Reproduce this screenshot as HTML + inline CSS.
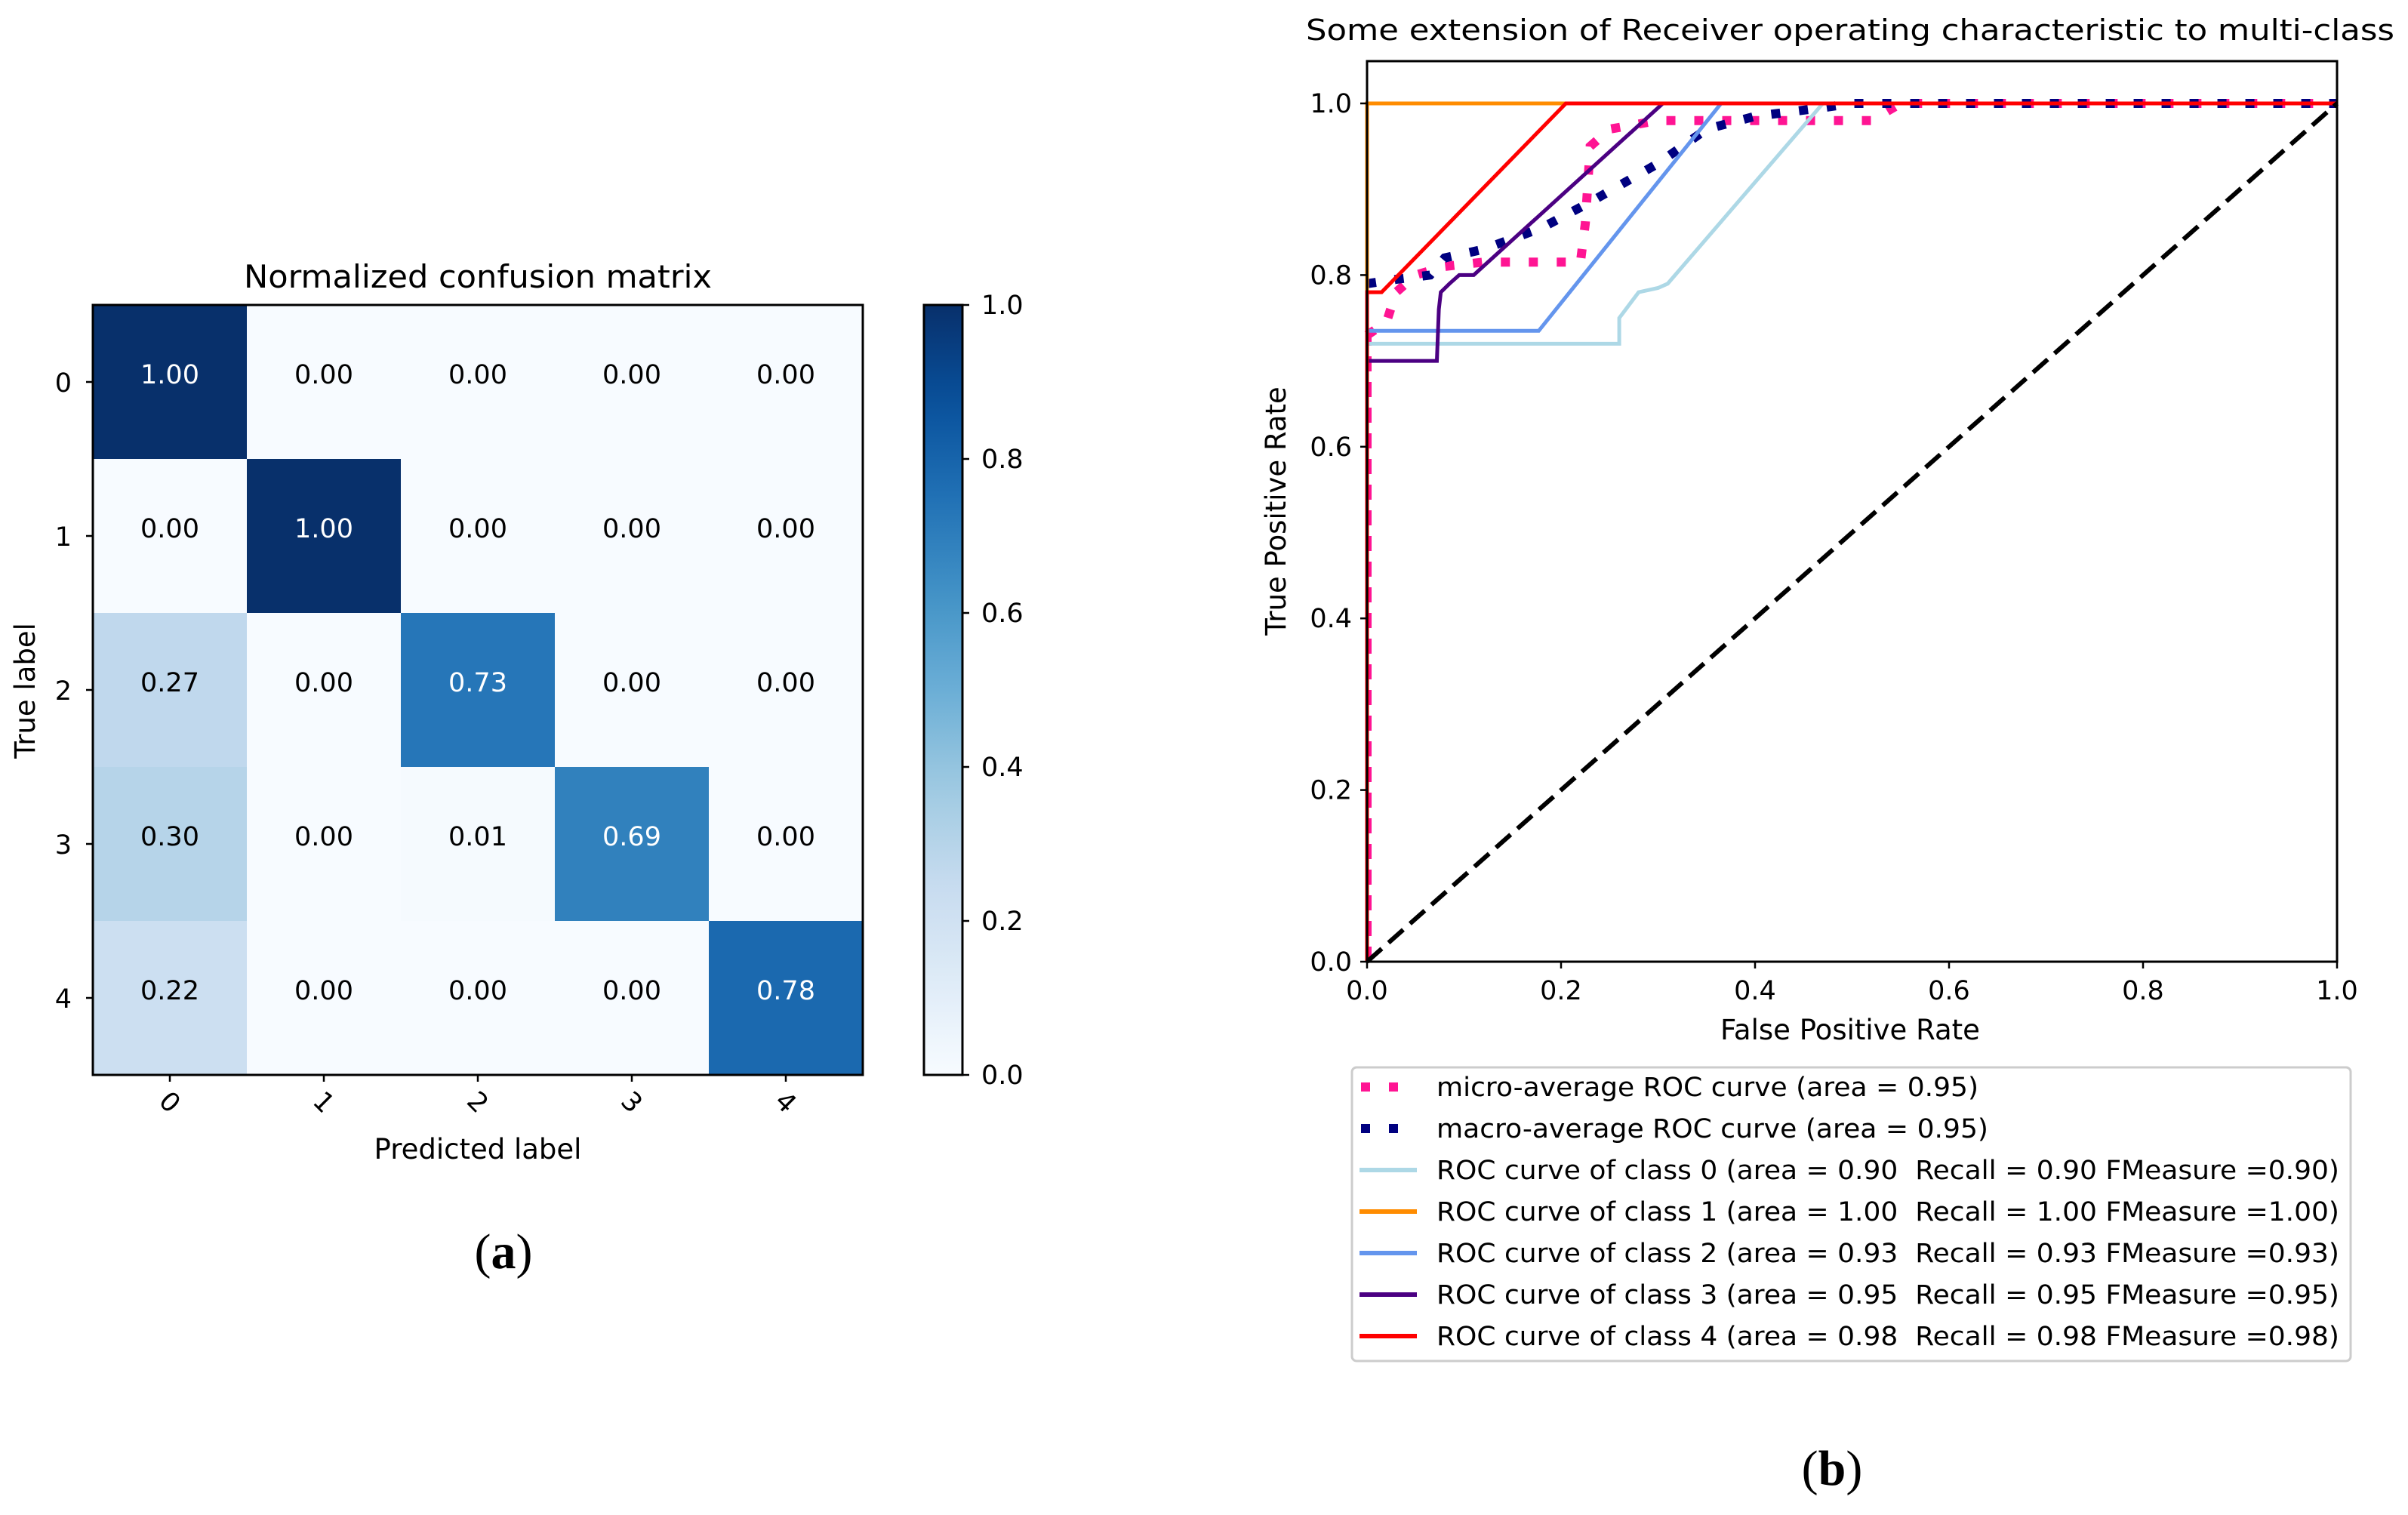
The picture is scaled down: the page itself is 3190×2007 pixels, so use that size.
<!DOCTYPE html>
<html><head><meta charset="utf-8"><style>
html,body{margin:0;padding:0;background:#fff}
svg{display:block}
text{font-family:"DejaVu Sans","Liberation Sans",sans-serif;fill:#000;white-space:pre}
</style></head><body>
<svg id="fig" width="3190" height="2007" viewBox="0 0 3190 2007" xmlns="http://www.w3.org/2000/svg" xml:space="preserve">
<rect width="3190" height="2007" fill="#fff"/>
<g id="cm"></g>
<g id="roc"></g>
<text x="667" y="1680" font-size="66" text-anchor="middle" style="font-family:'Liberation Serif',serif">(<tspan font-weight="bold">a</tspan>)</text>
<text x="2427" y="1967" font-size="66" text-anchor="middle" style="font-family:'Liberation Serif',serif">(<tspan font-weight="bold">b</tspan>)</text>
</svg>
<script>
// ---- confusion matrix data ----
const cmLabels = ['0','1','2','3','4'];
const cmRow0 = [1.00,0.00,0.00,0.00,0.00];
const cmRow1 = [0.00,1.00,0.00,0.00,0.00];
const cmRow2 = [0.27,0.00,0.73,0.00,0.00];
const cmRow3 = [0.30,0.00,0.01,0.69,0.00];
const cmRow4 = [0.22,0.00,0.00,0.00,0.78];
const cbTicks = ['0.0','0.2','0.4','0.6','0.8','1.0'];
// ---- ROC data ----
const rocTicks = ['0.0','0.2','0.4','0.6','0.8','1.0'];
const microX = [0,0,0.02,0.03,0.05,0.08,0.12,0.22,0.225,0.23,0.25,0.30,0.52,0.55,1];
const microY = [0,0.73,0.745,0.78,0.80,0.81,0.815,0.815,0.86,0.95,0.97,0.98,0.98,1,1];
const macroX = [0,0.03,0.065,0.08,0.12,0.18,0.23,0.30,0.35,0.40,0.47,0.50,1];
const macroY = [0.79,0.795,0.80,0.82,0.83,0.855,0.885,0.93,0.97,0.985,0.995,1,1];
const c0X = [0,0,0.26,0.26,0.27,0.28,0.30,0.31,0.47,1];
const c0Y = [0,0.72,0.72,0.75,0.765,0.78,0.785,0.79,1,1];
const c1X = [0,0,1];
const c1Y = [0,1,1];
const c2X = [0,0,0.177,0.365,1];
const c2Y = [0,0.735,0.735,1,1];
const c3X = [0,0,0.072,0.074,0.076,0.085,0.095,0.11,0.305,1];
const c3Y = [0,0.70,0.70,0.76,0.78,0.79,0.80,0.80,1,1];
const c4X = [0,0,0.015,0.205,1];
const c4Y = [0,0.78,0.78,1,1];
const legendLabels = ['micro-average ROC curve (area = 0.95)','macro-average ROC curve (area = 0.95)',
 'ROC curve of class 0 (area = 0.90  Recall = 0.90 FMeasure =0.90)',
 'ROC curve of class 1 (area = 1.00  Recall = 1.00 FMeasure =1.00)',
 'ROC curve of class 2 (area = 0.93  Recall = 0.93 FMeasure =0.93)',
 'ROC curve of class 3 (area = 0.95  Recall = 0.95 FMeasure =0.95)',
 'ROC curve of class 4 (area = 0.98  Recall = 0.98 FMeasure =0.98)'];

const NS='http://www.w3.org/2000/svg';
function mk(parent,tag,attrs,txt){const e=document.createElementNS(NS,tag);for(const k in attrs)e.setAttribute(k,attrs[k]);if(txt!==undefined)e.textContent=txt;parent.appendChild(e);return e;}
const blues=[[247,251,255],[222,235,247],[198,219,239],[158,202,225],[107,174,214],[66,146,198],[33,113,181],[8,81,156],[8,48,107]];
function blue(v){v=Math.max(0,Math.min(1,v));const p=v*8,i=Math.min(7,Math.floor(p)),f=p-i;const a=blues[i],b=blues[i+1];return 'rgb('+a.map((c,k)=>Math.round(c+(b[k]-c)*f)).join(',')+')';}

// ---- confusion matrix ----
const cm=document.getElementById('cm');
const cmRows=[cmRow0,cmRow1,cmRow2,cmRow3,cmRow4];
const L=123,T=404,W=1020,H=1020,n=cmLabels.length,cw=W/n,ch=H/n;
const cmx=j=>L+j*cw, cmy=i=>T+i*ch;
let t=mk(cm,'text',{x:633,y:381,'font-size':42,'text-anchor':'middle',textLength:620,lengthAdjust:'spacingAndGlyphs'},'Normalized confusion matrix');


cmRows.forEach((row,i)=>row.forEach((v,j)=>{
 const r=mk(cm,'rect',{x:cmx(j),y:cmy(i),width:cw+0.5,height:ch+0.5,fill:blue(v)});
 
 
 const tx=mk(cm,'text',{x:cmx(j)+cw/2,y:cmy(i)+ch/2+2,'font-size':35,'text-anchor':'middle',style:'fill:'+(v>0.5?'#fff':'#000')},v.toFixed(2));
 
 
}));
mk(cm,'rect',{x:L,y:T,width:W,height:H,fill:'none',stroke:'#000','stroke-width':3});
cmLabels.forEach((lab,k)=>{
 const yc=cmy(k)+ch/2, xc=cmx(k)+cw/2;
 mk(cm,'line',{x1:L-9,x2:L,y1:yc,y2:yc,stroke:'#000','stroke-width':2.5});
 let a=mk(cm,'text',{x:L-28,y:yc+13,'font-size':35,'text-anchor':'end'},lab);
 
 
 mk(cm,'line',{x1:xc,x2:xc,y1:T+H,y2:T+H+9,stroke:'#000','stroke-width':2.5});
 let b=mk(cm,'text',{x:xc,y:T+H+48,'font-size':35,'text-anchor':'middle',transform:'rotate(45 '+xc+' '+(T+H+36)+')'},lab);
 
 
});
t=mk(cm,'text',{x:633,y:1535,'font-size':37,'text-anchor':'middle'},'Predicted label');


t=mk(cm,'text',{x:46,y:915,'font-size':37,'text-anchor':'middle',transform:'rotate(-90 46 915)'},'True label');


// colorbar
const cbx=1224,cbw=51;
const defs=mk(cm,'defs',{});
const g=mk(defs,'linearGradient',{id:'cbg',x1:0,y1:1,x2:0,y2:0});
for(let s=0;s<=20;s++)mk(g,'stop',{offset:s/20,'stop-color':blue(s/20)});
let cb=mk(cm,'rect',{x:cbx,y:T,width:cbw,height:H,fill:'url(#cbg)',stroke:'#000','stroke-width':3});


cbTicks.forEach(lab=>{
 const y=T+H-parseFloat(lab)*H;
 mk(cm,'line',{x1:cbx+cbw,x2:cbx+cbw+9,y1:y,y2:y,stroke:'#000','stroke-width':2.5});
 const tt=mk(cm,'text',{x:cbx+cbw+25,y:y+12,'font-size':35},lab);
 
 
});

// ---- ROC ----
const roc=document.getElementById('roc');
const X0=1811,X1=3096,Y0=1274,Y1=137,PT=81;
const sx=v=>X0+v*(X1-X0), sy=v=>Y0-v*(Y0-Y1);
t=mk(roc,'text',{x:2451,y:53,'font-size':38,'text-anchor':'middle',textLength:1442,lengthAdjust:'spacingAndGlyphs'},'Some extension of Receiver operating characteristic to multi-class');


const clip=mk(mk(roc,'defs',{}),'clipPath',{id:'rc'});
mk(clip,'rect',{x:X0-8,y:PT,width:X1-X0+16,height:Y0-PT+8});
const plot=mk(roc,'g',{'clip-path':'url(#rc)'});
function series(xs,ys,color,w,dash,name){
 const d=xs.map((x,i)=>(i?'L':'M')+sx(x).toFixed(1)+' '+sy(ys[i]).toFixed(1)).join(' ');
 const p=mk(plot,'path',{d:d,fill:'none',stroke:color,'stroke-width':w,'stroke-linejoin':'miter'});
 if(dash)p.setAttribute('stroke-dasharray',dash);
 
 
}
// thin vertical segment of micro-average along the y-axis
const vx=sx(microX[0])+4;
let vl=mk(plot,'line',{x1:vx,x2:vx,y1:sy(microY[0]),y2:sy(microY[1]),stroke:'#ff1493','stroke-width':4,'stroke-dasharray':'20 14'});


series(microX.slice(1),microY.slice(1),'#ff1493',12,'12 25','micro-average-curve');
series(macroX,macroY,'#000080',12,'12 25','macro-average-curve');
series(c0X,c0Y,'#add8e6',5,null,'class-0-curve');
series(c1X,c1Y,'#ff8c00',5,null,'class-1-curve');
series(c2X,c2Y,'#6495ed',5,null,'class-2-curve');
series(c3X,c3Y,'#4b0082',5,null,'class-3-curve');
series(c4X,c4Y,'#ff0000',5,null,'class-4-curve');
series([0,1],[0,1],'#000',6,'26 12','chance-diagonal');
mk(roc,'rect',{x:X0,y:PT,width:X1-X0,height:Y0-PT,fill:'none',stroke:'#000','stroke-width':3});
rocTicks.forEach(lab=>{
 const v=parseFloat(lab);
 mk(roc,'line',{x1:sx(v),x2:sx(v),y1:Y0,y2:Y0+9,stroke:'#000','stroke-width':2.5});
 let a=mk(roc,'text',{x:sx(v),y:Y0+50,'font-size':35,'text-anchor':'middle'},lab);
 
 
 mk(roc,'line',{x1:X0-9,x2:X0,y1:sy(v),y2:sy(v),stroke:'#000','stroke-width':2.5});
 let b=mk(roc,'text',{x:X0-20,y:sy(v)+12,'font-size':35,'text-anchor':'end'},lab);
 
 
});
t=mk(roc,'text',{x:2451,y:1377,'font-size':37,'text-anchor':'middle'},'False Positive Rate');


t=mk(roc,'text',{x:1703,y:677,'font-size':37,'text-anchor':'middle',transform:'rotate(-90 1703 677)'},'True Positive Rate');


// legend
const lg=mk(roc,'g',{});


mk(lg,'rect',{x:1791,y:1414,width:1323,height:389,rx:6,fill:'#fff',stroke:'#ccc','stroke-width':3});
const lc=['#ff1493','#000080','#add8e6','#ff8c00','#6495ed','#4b0082','#ff0000'];
const lens=[718,731,1196,1196,1196,1196,1196];
legendLabels.forEach((lab,i)=>{
 const y=1440+i*55;
 if(i<2){mk(lg,'line',{x1:1803,x2:1875,y1:y,y2:y,stroke:lc[i],'stroke-width':12,'stroke-dasharray':'12 25'});}
 else mk(lg,'line',{x1:1801,x2:1877,y1:y,y2:y,stroke:lc[i],'stroke-width':6});
 const e=mk(lg,'text',{x:1903,y:y+12,'font-size':35,textLength:lens[i],lengthAdjust:'spacingAndGlyphs'},lab);
 
 
});
</script>
</body></html>
